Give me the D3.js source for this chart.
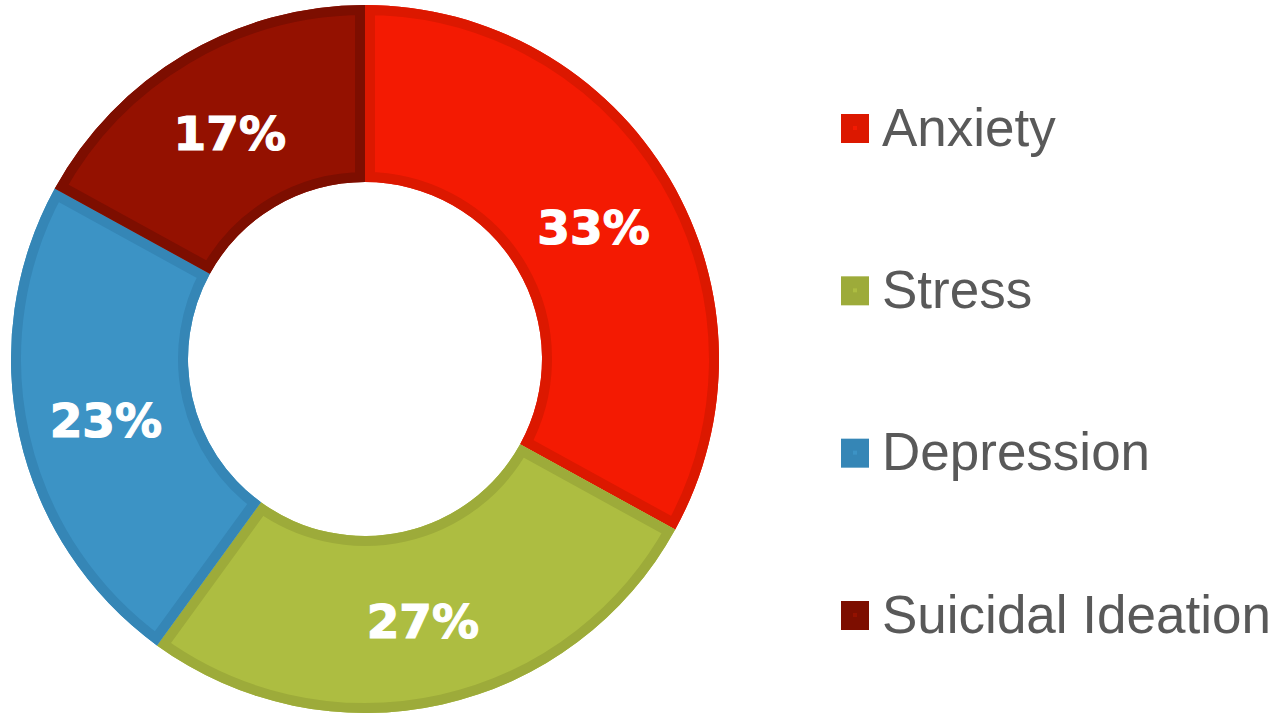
<!DOCTYPE html>
<html>
<head>
<meta charset="utf-8">
<script src="https://cdn.jsdelivr.net/npm/d3@7"></script>
<style>
    body { margin: 0; background: #fff; }
    .legend-text { font-family: "Liberation Sans", Arial, sans-serif; font-size: 53px; fill: #595959; }
    .pct { font-family: "DejaVu Sans", sans-serif; font-weight: bold; font-size: 47px; fill: #fff; stroke: #fff; stroke-width: 1.2px; }
</style>
</head>
<body>
<script>
var categories = ['Anxiety', 'Stress', 'Depression', 'Suicidal Ideation'];
var values = [33, 27, 23, 17];
var fills = ['#f41a02', '#adbd41', '#3c93c5', '#941100'];
var borders = ['#dc1800', '#9dab3a', '#3586b6', '#7d0e00'];

var svg = d3.select('body').append('svg')
    .attr('width', 1278)
    .attr('height', 714);

var cx = 365, cy = 359,
    outer = 354, inner = 177;

var g = svg.append('g').attr('transform', 'translate(' + cx + ',' + cy + ')');

var pie = d3.pie().sort(null).value(function (d) { return d; });
var arc = d3.arc().innerRadius(inner).outerRadius(outer);

var slices = pie(values);

var defs = svg.append('defs');
defs.selectAll('clipPath')
    .data(slices)
    .enter().append('clipPath')
    .attr('id', function (d, i) { return 'clip' + i; })
    .append('path')
    .attr('d', arc);

var slice = g.selectAll('.slice')
    .data(slices)
    .enter().append('g')
    .attr('class', 'slice');

slice.append('path')
    .attr('d', arc)
    .attr('fill', function (d, i) { return fills[i]; });

// inset border: stroke twice as wide, clipped to the slice itself
slice.append('path')
    .attr('d', arc)
    .attr('fill', 'none')
    .attr('stroke', function (d, i) { return borders[i]; })
    .attr('stroke-width', 20)
    .attr('clip-path', function (d, i) { return 'url(#clip' + i + ')'; });

slice.append('text')
    .attr('class', 'pct')
    .attr('transform', function (d) {
        var c = arc.centroid(d);
        return 'translate(' + c[0] + ',' + (c[1] + 3) + ')';
    })
    .attr('dy', '0.36em')
    .style('text-anchor', 'middle')
    .text(function (d) { return d.data + '%'; });

var y = d3.scalePoint()
    .domain(categories)
    .range([128.5, 615.5]);

var legend = svg.append('g')
    .selectAll('g')
    .data(categories)
    .enter().append('g')
    .attr('transform', function (d) { return 'translate(841,' + y(d) + ')'; });

legend.append('rect')
    .attr('x', 0)
    .attr('y', -14.5)
    .attr('width', 28)
    .attr('height', 29)
    .attr('fill', function (d, i) { return borders[i]; });

legend.append('rect')
    .attr('x', 12)
    .attr('y', -2.5)
    .attr('width', 4)
    .attr('height', 4)
    .attr('fill', function (d, i) { return fills[i]; });

legend.append('text')
    .attr('class', 'legend-text')
    .attr('x', 41)
    .attr('y', 17)
    .text(function (d) { return d; });
</script>
</body>
</html>
